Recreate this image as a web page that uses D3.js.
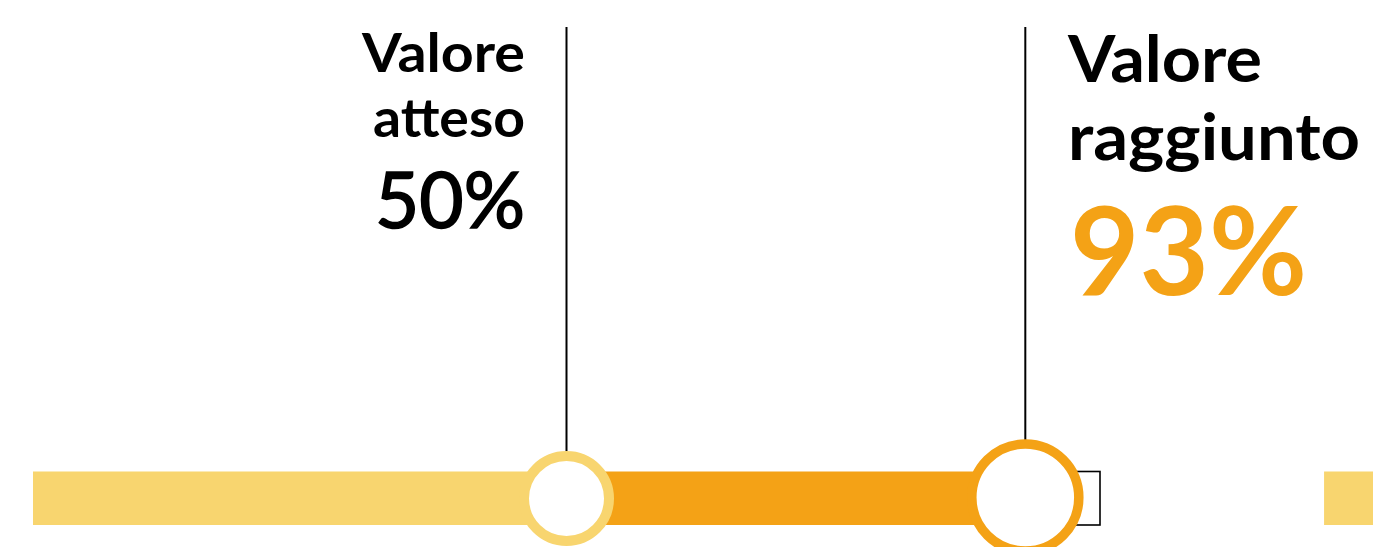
<!DOCTYPE html>
<html>
<head>
<meta charset="utf-8">
<script src="https://cdn.jsdelivr.net/npm/d3@7"></script>
<style>
  html, body { margin: 0; padding: 0; background: #ffffff; overflow: hidden; }
  svg { display: block; }
  text { font-family: "Lato", "Noto Sans", sans-serif; }
</style>
</head>
<body>
<svg id="chart" width="1373" height="547"></svg>
<script>
// ---- data ----
const markerLabels = ["Valore atteso", "Valore raggiunto"];
const markerValues = [50, 93];            // percent
const scaleDomain = [0, 100];             // percent scale
const segmentStart = [0, 50, 93, 121];    // bar segments (percent)
const segmentEnd   = [50, 93, 100, 130];

// ---- styles ----
const LIGHT = "#F8D56F";
const ORANGE = "#F4A216";
const segStyle = [
  { fill: LIGHT, stroke: "none" },
  { fill: ORANGE, stroke: "none" },
  { fill: "#ffffff", stroke: "#000000" },
  { fill: LIGHT, stroke: "none" }
];

const svg = d3.select("#chart");
const x = d3.scaleLinear().domain(scaleDomain).range([33, 1100]);

const barY = 471.5, barH = 53.5, cy = 498.5;

// bar segments
const segs = segmentStart.map((s, i) => ({ s, e: segmentEnd[i], i }));
svg.append("g").selectAll("rect").data(segs).join("rect")
  .attr("x", d => x(d.s))
  .attr("y", barY)
  .attr("width", d => x(d.e) - x(d.s))
  .attr("height", barH)
  .attr("fill", d => segStyle[d.i].fill)
  .attr("stroke", d => segStyle[d.i].stroke)
  .attr("stroke-width", 1.6);

// markers
const markerStyle = [
  { stroke: LIGHT, r: 42.5, sw: 10 },
  { stroke: ORANGE, r: 53.5, sw: 9.5 }
];
const markers = markerValues.map((v, i) => ({ v, i }));

svg.append("g").selectAll("line").data(markers).join("line")
  .attr("x1", d => x(d.v)).attr("x2", d => x(d.v))
  .attr("y1", 27)
  .attr("y2", d => cy - markerStyle[d.i].r - markerStyle[d.i].sw / 2)
  .attr("stroke", "#000").attr("stroke-width", 2);

svg.append("g").selectAll("circle").data(markers).join("circle")
  .attr("cx", d => x(d.v))
  .attr("cy", d => d.i === 1 ? cy - 1 : cy)
  .attr("r", d => markerStyle[d.i].r)
  .attr("fill", "#ffffff")
  .attr("stroke", d => markerStyle[d.i].stroke)
  .attr("stroke-width", d => markerStyle[d.i].sw);

// labels
function words(label) { return label.split(" "); }
const fmt = v => v + "%";

// left label (expected), right-aligned against the marker line
const leftLines = [
  { t: words(markerLabels[0])[0], y: 72, size: 54, w: 163, weight: 700, color: "#000", sw: 0 },
  { t: words(markerLabels[0])[1], y: 137, size: 54, w: 152, weight: 700, color: "#000", sw: 0 },
  { t: fmt(markerValues[0]), y: 228, size: 78, w: 150, weight: 400, color: "#000", sw: 1.6 }
];
const rightLines = [
  { t: words(markerLabels[1])[0], y: 82, size: 65, w: 194, weight: 700, color: "#000", sw: 0 },
  { t: words(markerLabels[1])[1], y: 160, size: 65, w: 292, weight: 700, color: "#000", sw: 0 },
  { t: fmt(markerValues[1]), y: 295, size: 122, w: 237, weight: 700, color: ORANGE, sw: 0 }
];

function drawLines(data, xFn, anchor) {
  svg.append("g").selectAll("text").data(data).join("text")
    .attr("x", xFn)
    .attr("y", d => d.y)
    .attr("text-anchor", anchor)
    .attr("font-size", d => d.size)
    .attr("font-weight", d => d.weight)
    .attr("fill", d => d.color)
    .attr("stroke", d => d.sw ? d.color : "none")
    .attr("stroke-width", d => d.sw)
    .attr("textLength", d => d.w)
    .attr("lengthAdjust", "spacingAndGlyphs")
    .text(d => d.t);
}
drawLines(leftLines, () => 525, "end");
drawLines(rightLines, (d, i) => i === 2 ? 1070 : 1068, "start");
</script>
</body>
</html>
